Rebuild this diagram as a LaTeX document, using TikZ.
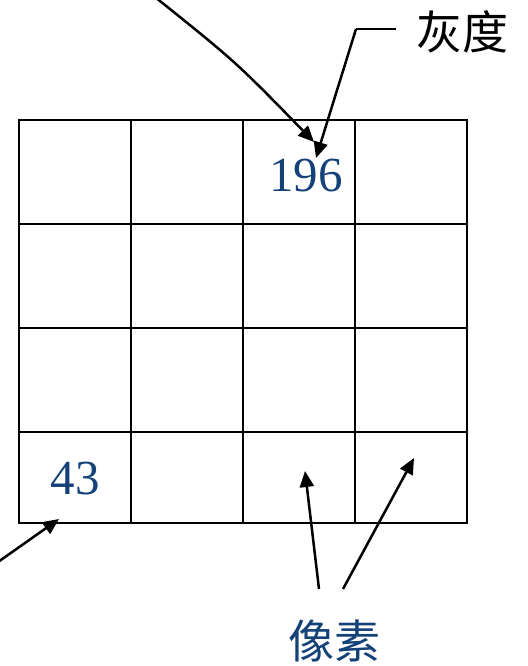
\documentclass[tikz,border=0pt]{standalone}
\usepackage{fontspec}
\setmainfont{Liberation Serif}
\newfontfamily\cjk{Noto Sans CJK SC}
\usetikzlibrary{arrows.meta}
\definecolor{numblue}{RGB}{20,65,120}
\begin{document}
\begin{tikzpicture}[x=1pt,y=-1pt,
  gridline/.style={line width=2.6pt},
  ptr/.style={line width=2.5pt,-{Triangle[length=16pt,width=14pt]}},
  plainline/.style={line width=2.5pt},
  num/.style={font=\fontsize{49}{49}\selectfont, text=numblue, inner sep=0pt},
  lab/.style={font=\cjk\fontsize{46}{46}\selectfont, inner sep=0pt}]
\useasboundingbox (0,0) rectangle (527,666);
% grid
\draw[gridline] (19,120) rectangle (467,523);
\foreach \x in {131,243,355} \draw[gridline] (\x,120) -- (\x,523);
\foreach \y in {224,328,432} \draw[gridline] (19,\y) -- (467,\y);
% texts
\node[num] (n196) at (306,176) {196};
\node[num] (n43) at (75,479) {43};
\node[lab] (gray) at (462,32) {灰度};
\node[lab, text=numblue] (pix) at (334,641) {像素};
% arrow end coordinates
\coordinate (topstart) at (155,-3);
\coordinate (toptip) at (314,142);
\coordinate (grayA) at (396,29);
\coordinate (grayB) at (356,29);
\coordinate (graytip) at (316,158);
\coordinate (lstart) at (-2,562);
\coordinate (ltip) at (59,519);
\coordinate (p1s) at (319,589);
\coordinate (p1t) at (305,471);
\coordinate (p2s) at (343,589);
\coordinate (p2t) at (414,458);
% arrows
\draw[ptr] (topstart) .. controls (236,62) .. (toptip);
\draw[plainline] (grayA) -- (grayB);
\draw[ptr] (grayB) -- (graytip);
\draw[ptr] (lstart) -- (ltip);
\draw[ptr] (p1s) -- (p1t);
\draw[ptr] (p2s) -- (p2t);
\end{tikzpicture}
\end{document}
